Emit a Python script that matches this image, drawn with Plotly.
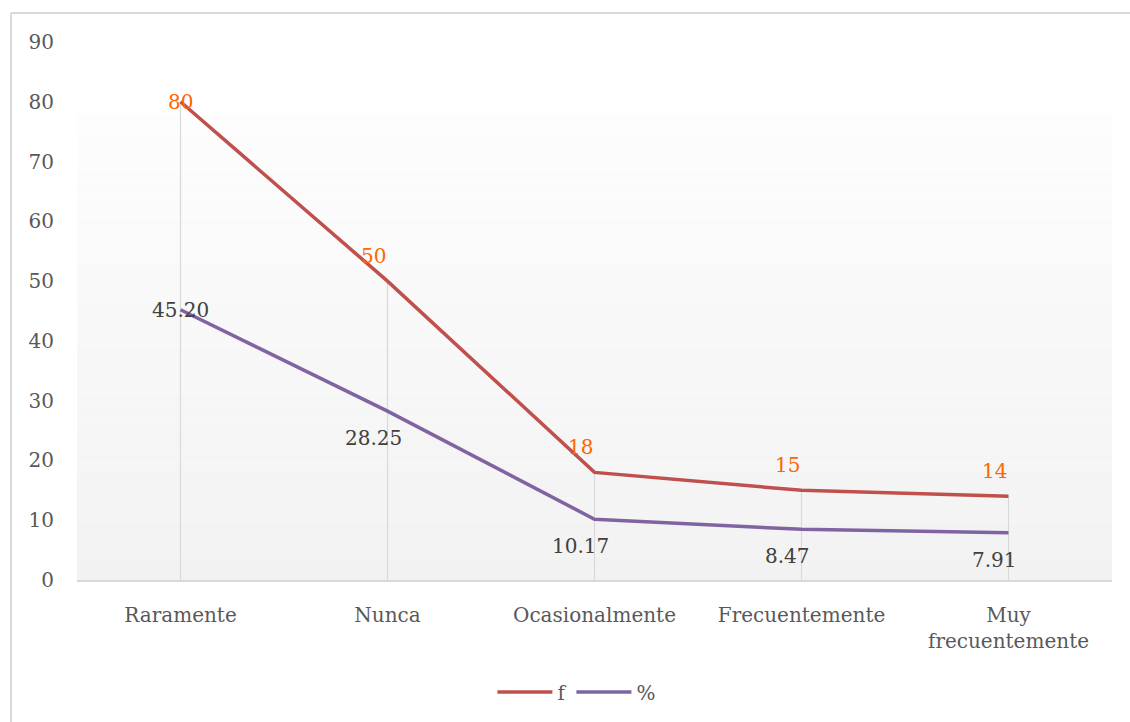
import plotly.graph_objects as go

categories = ["Raramente", "Nunca", "Ocasionalmente", "Frecuentemente", "Muy<br>frecuentemente"]
f_values = [80, 50, 18, 15, 14]
pct_values = [45.20, 28.25, 10.17, 8.47, 7.91]
f_labels = ["80", "50", "18", "15", "14"]
pct_labels = ["45.20", "28.25", "10.17", "8.47", "7.91"]
y_ticks = [0, 10, 20, 30, 40, 50, 60, 70, 80, 90]

FONT = "DejaVu Serif"
TICK_COLOR = "#595959"
FS = 20

fig = go.Figure()

# drop lines
dx, dy = [], []
for c, a, b in zip(categories, f_values, pct_values):
    dx += [c, c, None]
    dy += [0, max(a, b), None]
fig.add_trace(go.Scatter(x=dx, y=dy, mode="lines", line=dict(color="#d9d9d9", width=1.2),
                         showlegend=False, hoverinfo="skip"))

fig.add_trace(go.Scatter(x=categories, y=f_values, name="f", mode="lines",
                         line=dict(color="#c0504d", width=3.5)))
fig.add_trace(go.Scatter(x=categories, y=pct_values, name="%", mode="lines",
                         line=dict(color="#8064a2", width=3.5)))

annotations = []
for i, (c, v, t) in enumerate(zip(categories, f_values, f_labels)):
    annotations.append(dict(x=c, y=v, text=t, showarrow=False,
                            yshift=0 if i == 0 else 25, xshift=0 if i == 0 else -14,
                            font=dict(family=FONT, size=FS, color="#ff6600")))
for i, (c, v, t) in enumerate(zip(categories, pct_values, pct_labels)):
    annotations.append(dict(x=c, y=v, text=t, showarrow=False,
                            yshift=0 if i == 0 else -27, xshift=0 if i == 0 else -14,
                            font=dict(family=FONT, size=FS, color="#404040")))

# gradient background of plot area
shapes = []
n = 40
top_v, bot_v = 78.0, 0.0
c_top, c_bot = 253, 242
for i in range(n):
    y0 = bot_v + (top_v - bot_v) * i / n
    y1 = bot_v + (top_v - bot_v) * (i + 1) / n
    t = (i + 0.5) / n
    g = round(c_bot + (c_top - c_bot) * t)
    shapes.append(dict(type="rect", xref="paper", yref="y", x0=0, x1=1, y0=y0, y1=y1,
                       fillcolor=f"rgb({g},{g},{g})", line=dict(width=0), layer="below"))
# outer border (top and left edges only visible)
W, H = 1130, 722
L, R, T, B = 77, 18, 42, 141
pw, ph = W - L - R, H - T - B
bx0 = (11 - L) / pw
by1 = (H - B - 13) / ph
bx1 = (W + 20 - L) / pw
by0 = -(B + 20) / ph
shapes.append(dict(type="line", xref="paper", yref="paper", x0=bx0, x1=bx1, y0=by1, y1=by1,
                   line=dict(color="#d9d9d9", width=2), layer="below"))
shapes.append(dict(type="line", xref="paper", yref="paper", x0=bx0, x1=bx0, y0=by0, y1=by1,
                   line=dict(color="#d9d9d9", width=2), layer="below"))

fig.update_layout(
    width=W, height=H,
    margin=dict(l=L, r=R, t=T, b=B),
    paper_bgcolor="white", plot_bgcolor="white",
    font=dict(family=FONT, size=FS, color=TICK_COLOR),
    shapes=shapes,
    annotations=annotations,
    showlegend=True,
    legend=dict(orientation="h", x=0.483, xanchor="center", y=-0.206, yanchor="middle",
                font=dict(family=FONT, size=FS, color=TICK_COLOR), itemwidth=55),
    xaxis=dict(range=[-0.5, 4.5], showgrid=False, showline=True, linecolor="#d9d9d9", linewidth=1.5,
               ticks="outside", ticklen=0, ticklabelstandoff=16, tickfont=dict(size=FS, color=TICK_COLOR),
               zeroline=False),
    yaxis=dict(range=[0, 90], tickvals=y_ticks, showgrid=False, showline=False, zeroline=False,
               ticks="outside", ticklen=0, ticklabelstandoff=18, tickfont=dict(size=FS, color=TICK_COLOR)),
)

fig.write_html("out.html",
               config={"displayModeBar": False},
               post_script="document.body.style.margin='0';document.body.style.overflow='hidden';")
